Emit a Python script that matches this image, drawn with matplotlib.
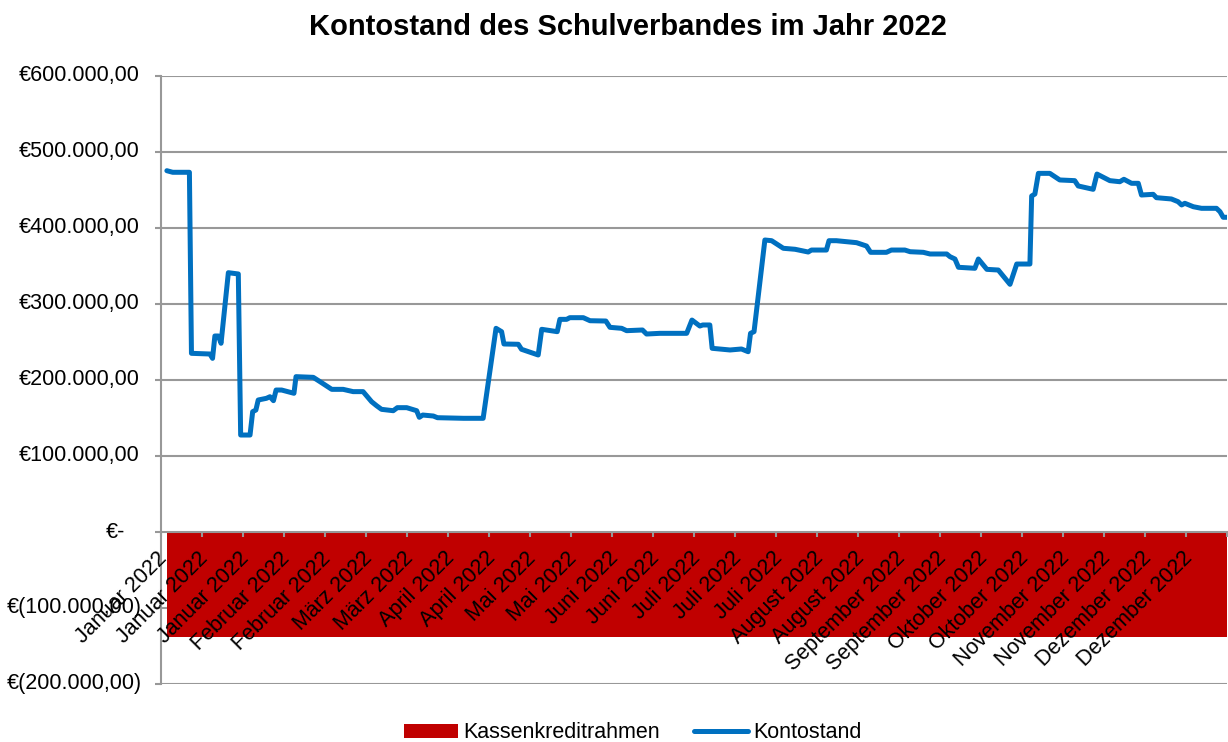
import matplotlib
matplotlib.use("Agg")
import matplotlib.pyplot as plt
import matplotlib.transforms as mtransforms
import numpy as np

plt.rcParams['font.family'] = ['Liberation Sans', 'DejaVu Sans']

# ---------------- data ----------------
title = "Kontostand des Schulverbandes im Jahr 2022"

# day of year 2022 (0 = 1 Jan) and account balance in EUR
konto_days = [2, 4, 9.7, 10.4, 16.7, 17.6, 18.4, 19.6, 20.5, 23, 26.4, 27.2, 30.4,
              31.3, 32.4, 33.2, 36, 37.2, 38.4, 39.3, 41.2, 45.4, 46.1, 52, 54.3,
              58.3, 62.2, 65.6, 69, 71.9, 73.6, 75.3, 79.3, 80.7, 83.9, 87.3, 88.2,
              89.4, 93, 94.4, 103.3, 110, 114.4, 116.3, 117.1, 122, 123.1, 128.8,
              130, 135.3, 136.2, 138.5, 139.6, 144.2, 146.5, 151.9, 153.3, 157.3,
              159, 164.4, 165.8, 170.3, 179.5, 181.3, 184, 185, 187.4, 188.2, 194.3,
              198.2, 200.5, 201.3, 202.5, 206.2, 208.5, 212.5, 216.5, 221, 222.1,
              227.2, 228.1, 230.6, 237.5, 240.9, 242.3, 247.7, 249.4, 254, 255.8,
              260.3, 262.6, 268.3, 269.4, 271.1, 272.3, 277.9, 279.1, 282, 285.9,
              289.9, 292.2, 296.7, 297.3, 298.4, 299.6, 303.5, 306.9, 312, 313.2,
              318.3, 319.6, 324, 327.4, 328.8, 331.4, 333.7, 334.8, 338.8, 339.9,
              345, 347.3, 348.5, 349.6, 352.5, 355.3, 360.4, 361.6, 362.7, 364]
konto_values = [475400, 473300, 473300, 235100, 234200, 228500, 257900, 257900, 248300,
                341200, 339500, 127600, 127600, 158300, 160500, 173700, 175900, 178000,
                172800, 186800, 186800, 182500, 204400, 203500, 197800, 187700, 187700,
                184700, 184700, 171500, 166200, 161400, 159600, 163600, 163600, 159600,
                150900, 153900, 152600, 150400, 149600, 149600, 268000, 263600, 247400,
                247000, 240400, 232900, 266700, 263600, 279800, 279800, 282000, 282000,
                278000, 277600, 269300, 268000, 264900, 265800, 260500, 261400, 261400,
                278900, 271000, 272400, 272400, 241700, 239500, 240800, 237200, 261400,
                263600, 384200, 383300, 373300, 372000, 368400, 371000, 371000, 383300,
                383300, 380700, 376300, 368000, 368000, 371000, 371000, 368800, 368000,
                365800, 365800, 362300, 359200, 348300, 347000, 359200, 345600, 344700,
                325900, 352600, 352600, 442100, 444700, 471900, 471900, 463200, 462300,
                455300, 450900, 471000, 462300, 460900, 464100, 458800, 458800, 443400,
                444300, 439900, 438200, 434600, 430300, 432500, 428000, 425900, 425900,
                421500, 414100, 414100]

kredit_days = [2, 364]
kredit_values = [-138000, -138000]

x_labels = ["Januar 2022", "Januar 2022", "Januar 2022", "Februar 2022", "Februar 2022",
            "März 2022", "März 2022", "April 2022", "April 2022", "Mai 2022", "Mai 2022",
            "Juni 2022", "Juni 2022", "Juli 2022", "Juli 2022", "Juli 2022",
            "August 2022", "August 2022", "September 2022", "September 2022",
            "Oktober 2022", "Oktober 2022", "November 2022", "November 2022",
            "Dezember 2022", "Dezember 2022"]

y_ticks = [600000, 500000, 400000, 300000, 200000, 100000, 0, -100000, -200000]
y_labels = ["€600.000,00", "€500.000,00", "€400.000,00", "€300.000,00", "€200.000,00",
            "€100.000,00", "€-", "€(100.000,00)", "€(200.000,00)"]

# ---------------- style ----------------
RED = '#C00000'
BLUE = '#0070C0'
GRID = '#989898'
FS = 15.5

W, H = 1228, 742
fig = plt.figure(figsize=(W / 100, H / 100), dpi=100)
ax = fig.add_axes([161 / W, 1 - 684 / H, 1066 / W, 608 / H])
ax.set_xlim(0, 364)
ax.set_ylim(-200000, 600000)

for v in y_ticks:
    if v != 0:
        ax.axhline(v, color=GRID, lw=1.5, zorder=1)

ax.fill_between(kredit_days, kredit_values, 0, color=RED, lw=0, zorder=2,
                label='Kassenkreditrahmen')
ax.plot(konto_days, konto_values, color=BLUE, lw=3.6, solid_joinstyle='round',
        solid_capstyle='round', zorder=3, label='Kontostand')

# spines
for s in ['top', 'right']:
    ax.spines[s].set_visible(False)
ax.spines['left'].set_color(GRID)
ax.spines['left'].set_linewidth(1.5)
ax.spines['bottom'].set_position(('data', 0))
ax.spines['bottom'].set_color(GRID)
ax.spines['bottom'].set_linewidth(1.5)
ax.spines['bottom'].set_zorder(4)

# y axis
ax.set_yticks(y_ticks)
ax.tick_params(axis='y', direction='out', length=4.3, width=1.5, color=GRID,
               labelleft=False)
trans = mtransforms.blended_transform_factory(ax.transAxes, ax.transData)
for v, lab in zip(y_ticks, y_labels):
    if lab == "€-":
        xr = (125 - 161) / 1066
    elif lab.startswith("€("):
        xr = (142 - 161) / 1066
    else:
        xr = (140 - 161) / 1066
    ax.text(xr, v, lab, transform=trans, ha='right', va='center', fontsize=FS,
            clip_on=False)

# x axis
xt = np.arange(0, 365, 14)
ax.set_xticks(xt)
ax.set_xticklabels(x_labels + [""], rotation=45, ha='right', va='center',
                   rotation_mode='anchor', fontsize=FS)
ax.tick_params(axis='x', direction='out', length=3.6, width=1.5, color=GRID, pad=13)
for lab in ax.get_xticklabels():
    lab.set_transform(lab.get_transform() +
                      mtransforms.ScaledTranslation(3 / 100, 0, fig.dpi_scale_trans))
ax.xaxis.set_zorder(4)

fig.text(628 / W, 1 - 27 / H, title, ha='center', va='center', fontsize=21,
         fontweight='bold')

fig.legend(loc='center', bbox_to_anchor=(633 / W, 1 - 733 / H), ncol=2,
           frameon=False, fontsize=FS, handlelength=2.5, handleheight=0.6,
           handletextpad=0.25, columnspacing=1.6, borderaxespad=0, borderpad=0)

fig.savefig('out.png', dpi=100)
